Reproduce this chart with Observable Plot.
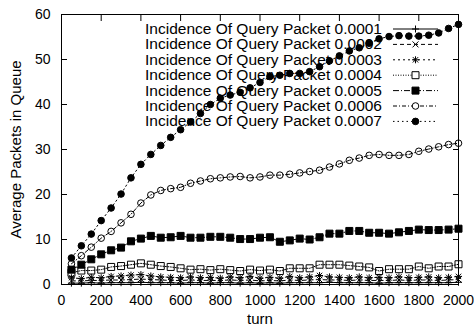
<!DOCTYPE html>
<html><head><meta charset="utf-8">
<script src="https://cdn.jsdelivr.net/npm/d3@7"></script>
<script src="https://cdn.jsdelivr.net/npm/@observablehq/plot@0.6"></script>
<style>body{margin:0;background:#fff} #chart{width:474px;height:332px}</style>
</head><body><div id="chart"></div>
<script>
const turns = [50,100,150,200,250,300,350,400,450,500,550,600,650,700,750,800,850,900,950,1000,1050,1100,1150,1200,1250,1300,1350,1400,1450,1500,1550,1600,1650,1700,1750,1800,1850,1900,1950,2000];
const seriesLabels = ["Incidence Of Query Packet 0.0001","Incidence Of Query Packet 0.0002","Incidence Of Query Packet 0.0003","Incidence Of Query Packet 0.0004","Incidence Of Query Packet 0.0005","Incidence Of Query Packet 0.0006","Incidence Of Query Packet 0.0007"];
const q1 = [0.3,0.3,0.4,0.3,0.4,0.4,0.4,0.5,0.4,0.4,0.4,0.3,0.4,0.4,0.3,0.4,0.4,0.3,0.4,0.3,0.4,0.3,0.4,0.4,0.4,0.4,0.5,0.4,0.4,0.4,0.4,0.3,0.4,0.4,0.4,0.4,0.4,0.4,0.4,0.5];
const q2 = [0.8,0.8,0.9,0.9,1.0,1.0,1.1,1.2,1.1,1.0,0.9,0.9,1.0,0.9,0.9,0.9,1.0,0.9,1.0,0.8,0.9,0.8,1.0,0.9,1.0,1.1,1.0,1.0,0.9,1.0,0.9,0.9,0.9,1.0,0.9,1.0,1.0,0.9,1.0,1.1];
const q3 = [1.5,1.3,1.6,1.5,1.8,1.9,2.1,2.2,1.9,1.7,1.6,1.5,1.7,1.5,1.6,1.4,1.7,1.5,1.8,1.4,1.6,1.4,1.8,1.5,1.7,2.0,1.7,1.6,1.5,1.7,1.5,1.6,1.5,1.7,1.5,1.6,1.7,1.5,1.6,1.8];
const q4 = [2.6,3.1,3.1,3.3,3.9,4.1,4.4,4.7,4.4,4.1,3.9,3.6,3.3,3.4,3.2,3.4,3.2,3.0,3.3,3.1,3.3,3.0,3.6,3.6,3.6,4.4,4.4,4.4,4.2,4.0,3.8,3.0,3.4,3.4,3.4,4.0,3.6,4.0,4.0,4.5];
const q5 = [3.3,4.4,5.6,6.7,7.6,8.2,9.6,10.2,10.8,10.4,10.5,10.8,10.4,10.4,10.6,10.6,10.4,10.1,10.1,10.4,10.5,9.5,9.8,10.2,10.0,10.5,11.3,11.3,11.9,11.9,11.5,11.5,11.3,11.6,11.9,12.2,12.1,12.1,12.2,12.4];
const q6 = [4.6,6.4,8.3,10.3,11.8,13.7,15.6,18.1,19.9,20.9,21.3,21.6,22.5,23.0,23.5,23.7,23.9,24.0,23.7,23.9,24.3,24.3,24.5,24.8,25.1,25.4,26.1,26.8,27.6,28.1,28.7,28.9,28.7,28.7,28.9,29.6,30.1,30.6,31.1,31.4];
const q7 = [5.9,8.6,11.2,14.2,17.0,20.1,23.7,26.7,28.9,30.9,32.7,34.4,36.1,38.0,40.0,41.4,42.1,42.7,43.7,44.9,46.2,46.5,46.9,46.9,47.3,48.4,49.7,50.8,51.9,52.6,53.6,54.6,55.1,55.3,55.2,55.2,55.4,55.9,56.9,57.8];
const xTicks = [0,200,400,600,800,1000,1200,1400,1600,1800,2000];
const yTicks = [0,10,20,30,40,50,60];
const xTitle = "turn";
const yTitle = "Average Packets in Queue";

const series = [q1,q2,q3,q4,q5,q6,q7];

const symbols = {
  plus: {draw(c){c.moveTo(-3.5,0);c.lineTo(3.5,0);c.moveTo(0,-3.5);c.lineTo(0,3.5);}},
  times: {draw(c){c.moveTo(-3,-3);c.lineTo(3,3);c.moveTo(-3,3);c.lineTo(3,-3);}},
  star: {draw(c){c.moveTo(-3.5,0);c.lineTo(3.5,0);c.moveTo(0,-3.5);c.lineTo(0,3.5);c.moveTo(-2.7,-2.7);c.lineTo(2.7,2.7);c.moveTo(-2.7,2.7);c.lineTo(2.7,-2.7);}},
  square: {draw(c){c.rect(-3.5,-3.5,7,7);}},
  circle: {draw(c){c.moveTo(3.3,0);c.arc(0,0,3.3,0,2*Math.PI);}}
};
const styles = [
  {sym:"plus", fill:"none", dash:null},
  {sym:"times", fill:"none", dash:"4,3"},
  {sym:"star", fill:"none", dash:"2,3"},
  {sym:"square", fill:"none", dash:"1,1.5"},
  {sym:"square", fill:"black", dash:"6,2,1,2"},
  {sym:"circle", fill:"none", dash:"4,2,1,2"},
  {sym:"circle", fill:"black", dash:"1.5,3"}
];

const W = 474, H = 332, mL = 61, mR = 16, mT = 14, mB = 48;
const fmt = d => String(d);

const marks = [
  Plot.frame({stroke:"black"}),
  Plot.axisX({ticks:xTicks, tickSize:-6, tickPadding:17, tickFormat:fmt, label:null, fontSize:14}),
  Plot.axisX({anchor:"top", ticks:xTicks, tickSize:-6, tickFormat:()=>"", label:null}),
  Plot.axisY({ticks:yTicks, tickSize:-6, tickPadding:17, tickFormat:fmt, label:null, fontSize:14}),
  Plot.axisY({anchor:"right", ticks:yTicks, tickSize:-6, tickFormat:()=>"", label:null}),
  Plot.text([xTitle], {text:d=>d, frameAnchor:"bottom", dy:39, fontSize:15}),
  Plot.text([yTitle], {text:d=>d, frameAnchor:"left", textAnchor:"middle", dx:-45, rotate:-90, fontSize:15})
];
series.forEach((s,j)=>{
  marks.push(Plot.line(turns, {x:d=>d, y:(d,i)=>s[i], stroke:"black", strokeWidth:1, strokeDasharray:styles[j].dash}));
  marks.push(Plot.dot(turns, {x:d=>d, y:(d,i)=>s[i], symbol:symbols[styles[j].sym], r:3.5, fill:styles[j].fill, stroke:"black", strokeWidth:1}));
});

const chart = Plot.plot({
  width:W, height:H, marginLeft:mL, marginRight:mR, marginTop:mT, marginBottom:mB,
  x:{domain:[0,2000]}, y:{domain:[0,60]},
  style:{fontFamily:"'Liberation Sans', Arial, sans-serif", fontSize:"14px", background:"white", color:"black"},
  marks
});
document.getElementById("chart").appendChild(chart);

// key (legend), drawn beneath the data like the original
const svg = d3.select(chart);
const key = svg.insert("g", "g[aria-label=line]").attr("font-size", 15.5).attr("fill","black");
const keyTextRight = W - mR - 76, keyX1 = W - mR - 65, keyX2 = W - mR - 20, keyTop = mT + 20, keyStep = 15.4;
seriesLabels.forEach((lab,j)=>{
  const yb = keyTop + j*keyStep;
  key.append("text").attr("x", keyTextRight).attr("y", yb).attr("text-anchor","end").text(lab);
  key.append("line").attr("x1",keyX1).attr("x2",keyX2).attr("y1",yb-5).attr("y2",yb-5)
    .attr("stroke","black").attr("stroke-width",1).attr("stroke-dasharray",styles[j].dash);
  const p = d3.path(); symbols[styles[j].sym].draw(p);
  key.append("path").attr("d", p.toString()).attr("transform",`translate(${(keyX1+keyX2)/2},${yb-5})`)
    .attr("fill", styles[j].fill === "none" ? "white" : "black").attr("stroke","black");
});
</script></body></html>
